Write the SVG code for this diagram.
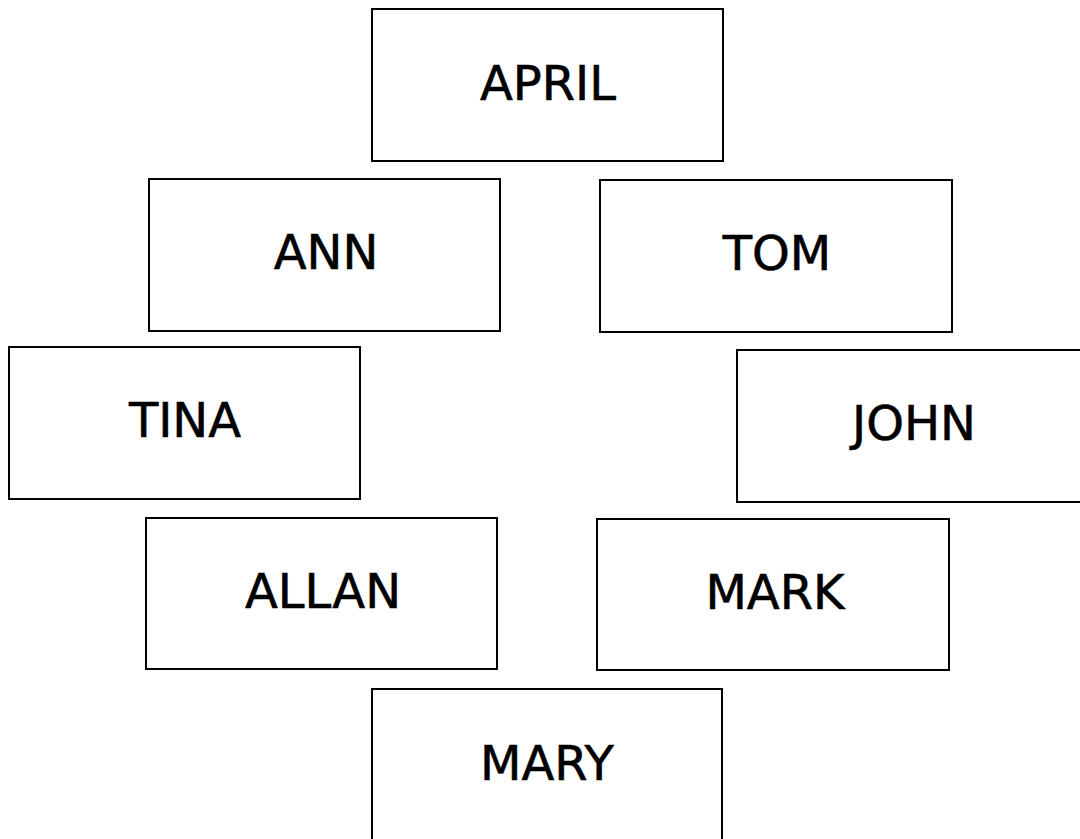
<svg xmlns="http://www.w3.org/2000/svg" width="1080" height="839" viewBox="0 0 1080 839">
<style>
.box{fill:#fff;stroke:#000;stroke-width:2}
.lbl{font-family:"DejaVu Sans","Noto Sans",sans-serif;font-size:48px;fill:#000;stroke:#000;stroke-width:0.6;text-anchor:middle}
</style>
<rect width="1080" height="839" fill="#fff"/>
<g id="april"><rect class="box" x="372" y="9" width="351" height="152"/><text class="lbl" x="548" y="100">APRIL</text></g>
<g id="ann"><rect class="box" x="149" y="179" width="351" height="152"/><text class="lbl" x="326" y="269">ANN</text></g>
<g id="tom"><rect class="box" x="600" y="180" width="352" height="152"/><text class="lbl" x="777" y="270">TOM</text></g>
<g id="tina"><rect class="box" x="9" y="347" width="351" height="152"/><text class="lbl" x="185" y="437">TINA</text></g>
<g id="john"><rect class="box" x="737" y="350" width="352" height="152"/><text class="lbl" x="914" y="440">JOHN</text></g>
<g id="allan"><rect class="box" x="146" y="518" width="351" height="151"/><text class="lbl" x="323" y="608">ALLAN</text></g>
<g id="mark"><rect class="box" x="597" y="519" width="352" height="151"/><text class="lbl" x="775" y="609">MARK</text></g>
<g id="mary"><rect class="box" x="372" y="689" width="350" height="160"/><text class="lbl" x="547" y="780">MARY</text></g>
<g id="connectors"></g>
</svg>
